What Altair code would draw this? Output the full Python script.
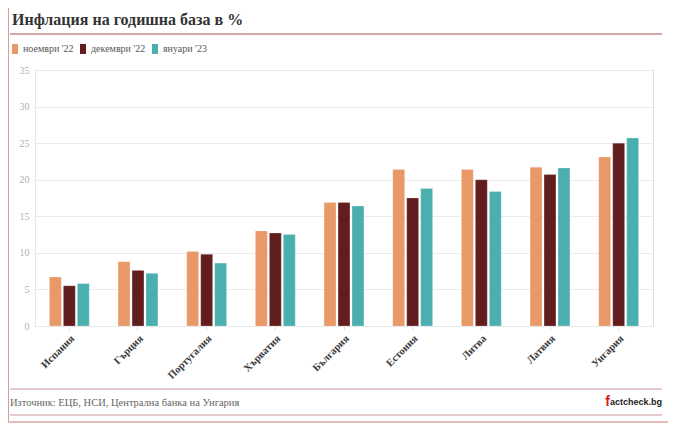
import altair as alt
import pandas as pd

countries = ["Испания", "Гърция", "Португалия", "Хърватия", "България",
             "Естония", "Литва", "Латвия", "Унгария"]
series = ["ноември '22", "декември '22", "януари '23"]
nov22 = [6.7, 8.8, 10.2, 13.0, 16.9, 21.4, 21.4, 21.7, 23.1]
dec22 = [5.5, 7.6, 9.8, 12.7, 16.9, 17.5, 20.0, 20.7, 25.0]
jan23 = [5.8, 7.2, 8.6, 12.5, 16.4, 18.8, 18.4, 21.6, 25.7]
colors = ["#E99868", "#621E1E", "#4BAFAF"]
y_ticks = [0, 5, 10, 15, 20, 25, 30, 35]

title_text = "Инфлация на годишна база в %"
source_text = "Източник: ЕЦБ, НСИ, Централна банка на Унгария"

rows = []
for s, vals in zip(series, [nov22, dec22, jan23]):
    for c, v in zip(countries, vals):
        rows.append({"country": c, "series": s, "value": v})
df = pd.DataFrame(rows)

SERIF = "Liberation Serif"
W, H = 618, 256

bars = alt.Chart(df).mark_bar(stroke="#ffffff", strokeOpacity=0.35, strokeWidth=0.6).encode(
    x=alt.X("country:N", sort=countries, title=None,
            scale=alt.Scale(paddingInner=0.42, paddingOuter=0.21),
            axis=alt.Axis(labelAngle=-45, labelFont=SERIF, labelFontSize=10.5,
                          labelFontWeight="bold", labelColor="#3a3a3a",
                          tickColor="#dddddd", tickSize=4, domainColor="#e8e8e8",
                          labelPadding=3, grid=False)),
    xOffset=alt.XOffset("series:N", sort=series,
                        scale=alt.Scale(paddingInner=0.15, paddingOuter=0)),
    y=alt.Y("value:Q", title=None,
            scale=alt.Scale(domain=[0, 35], nice=False),
            axis=alt.Axis(values=y_ticks, labelFont=SERIF, labelFontSize=10,
                          labelColor="#b0b0b0", ticks=False, labelPadding=6,
                          domainColor="#e8e8e8", gridColor="#ececec")),
    color=alt.Color("series:N", sort=series,
                    scale=alt.Scale(domain=series, range=colors),
                    legend=alt.Legend(orient="none", legendX=-25, legendY=-26,
                                      direction="horizontal", title=None,
                                      symbolType="M-0.6,-1H0.6V1H-0.6Z",
                                      symbolSize=100, symbolStrokeWidth=0,
                                      labelFont=SERIF, labelFontSize=10,
                                      labelColor="#555555", labelOffset=3,
                                      columnPadding=4)),
)

one = alt.Data(values=[{}])


def hline(y, x1, x2, color, width):
    return alt.Chart(one).mark_rule(color=color, strokeWidth=width).encode(
        x=alt.value(x1), x2=alt.value(x2), y=alt.value(y))


def vline(x, y1, y2, color, width):
    return alt.Chart(one).mark_rule(color=color, strokeWidth=width).encode(
        x=alt.value(x), y=alt.value(y1), y2=alt.value(y2))


def label(x, y, txt, **kw):
    return alt.Chart(one).mark_text(baseline="middle", **kw).encode(
        x=alt.value(x), y=alt.value(y), text=alt.value(txt))


deco = [
    hline(-63, -27, 627, "#e3bcbc", 2),
    hline(-36, -25, 627, "#c48a8c", 1.5),
    vline(-26.5, -63, 353, "#cf9fa1", 1),
    hline(319, -25, 627, "#c9999b", 1),
    hline(345, -25, 627, "#c9999b", 1),
    hline(352, -27, 633, "#e3bcbc", 2),
    label(-23, -50, title_text, align="left", font=SERIF, fontSize=16,
          fontWeight="bold", color="#333333"),
    label(-25, 333, source_text, align="left", font=SERIF, fontSize=10.5,
          color="#666666"),
    label(575, 332, "f", align="right", font="Liberation Sans", fontSize=14,
          fontWeight="bold", color="#d42020"),
    label(627, 332, "actcheck.bg", align="right", font="Liberation Sans",
          fontSize=9, fontWeight="bold", color="#222222"),
]

chart = alt.layer(bars, *deco).properties(
    width=W, height=H,
    autosize=alt.AutoSizeParams(type="none"),
    padding={"left": 27, "top": 62, "right": 19, "bottom": 98},
).configure_view(stroke=None).configure(background="#ffffff")

chart.save("out.html", embed_options={"renderer": "svg", "actions": False})
